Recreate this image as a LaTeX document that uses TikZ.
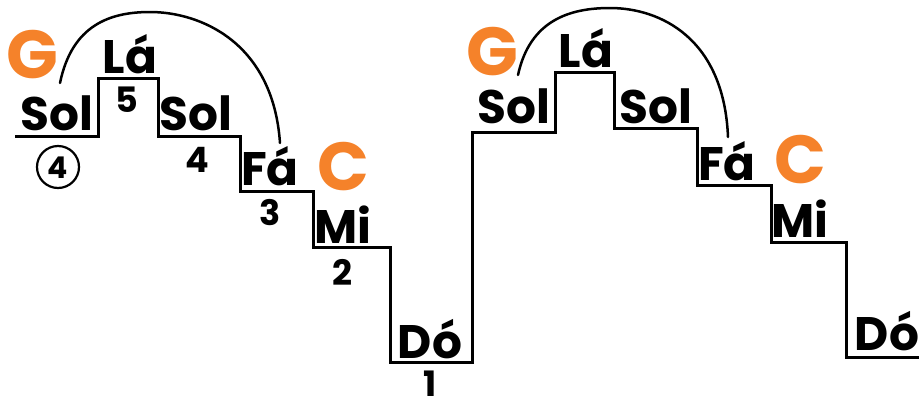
\documentclass[tikz,border=0pt]{standalone}
\usepackage{fontspec}
\setmainfont{Poppins}
\definecolor{solfa}{HTML}{F5822A}
\begin{document}
\begin{tikzpicture}[x=1pt,y=-1pt,
  stair/.style={line width=3pt, line join=miter},
  leap/.style={line width=2.5pt, line cap=round},
  note/.style={font=\fontsize{47}{47}\selectfont\bfseries, inner sep=0pt, anchor=base},
  deg/.style={font=\fontsize{35}{35}\selectfont\bfseries, inner sep=0pt, anchor=base},
  chord/.style={font=\fontsize{68}{68}\selectfont\bfseries, text=solfa, inner sep=0pt, anchor=base},
  ring/.style={circle, draw, line width=2.2pt, minimum size=42pt, inner sep=0pt}]
\useasboundingbox (0,0) rectangle (919,402);

% the two staircases, drawn as one line
\draw[stair] (15,136) -- (98,136) -- (98,78) -- (158,78) -- (158,136)
  -- (240,136) -- (240,191) -- (313,191) -- (313,247) -- (390,247)
  -- (390,362) -- (472,362) -- (472,132) -- (555,132) -- (555,72)
  -- (614,72) -- (614,128) -- (697,128) -- (697,185) -- (771,185)
  -- (771,242) -- (846,242) -- (846,357) -- (925,357);

% left staircase labels
\node[chord] (g1) at (32,78) {G};
\node[note] (sol1) at (57,130) {Sol};
\node[note] (la1) at (130,73) {Lá};
\node[deg] (n5) at (127,112) {5};
\node[note] (sol2) at (196,130) {Sol};
\node[deg] (n4) at (197,172) {4};
\node[ring] (r4) at (58,167) {};
\node[deg, font=\fontsize{30}{30}\selectfont\bfseries] (n4c) at (58,178) {4};
\node[note] (fa1) at (270,185) {Fá};
\node[chord] (c1) at (343,190) {C};
\node[deg] (n3) at (270,225) {3};
\node[note] (mi1) at (343,243) {Mi};
\node[deg] (n2) at (342,285) {2};
\node[note] (do1) at (430,358) {Dó};
\node[deg] (n1) at (430,396) {1};

% right staircase labels
\node[chord] (g2) at (492,75) {G};
\node[note] (sol3) at (514,123) {Sol};
\node[note] (la2) at (586,67) {Lá};
\node[note] (sol4) at (656,123) {Sol};
\node[note] (fa2) at (727,180) {Fá};
\node[chord] (c2) at (800,183) {C};
\node[note] (mi2) at (800,237) {Mi};
\node[note] (do2) at (887,350) {Dó};

% leaps from G over to Fá
\coordinate (a1) at (60,83);
\coordinate (t1) at (150,12);
\coordinate (b1) at (280,143);
\draw[leap] (a1) .. controls (72,25) and (110,12) .. (t1)
  .. controls (200,12) and (273,42) .. (b1);

\coordinate (a2) at (518,75);
\coordinate (t2) at (610,8);
\coordinate (b2) at (728,137);
\draw[leap] (a2) .. controls (530,20) and (570,8) .. (t2)
  .. controls (660,8) and (724,38) .. (b2);
\end{tikzpicture}
\end{document}
